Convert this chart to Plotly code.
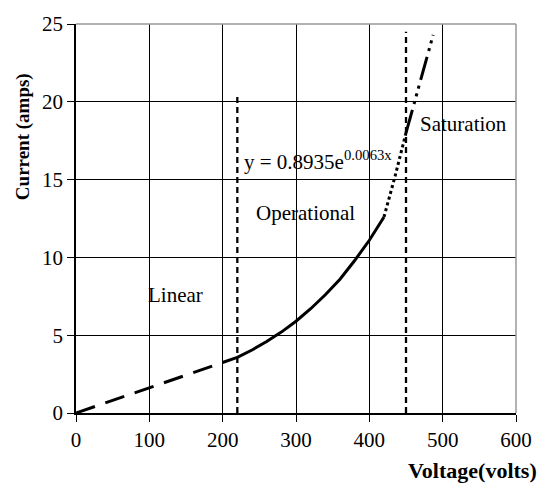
import plotly.graph_objects as go

# Voltage/current readings for each operating region
linear_v = [0, 50, 100, 150, 200, 220]
linear_i = [0.0, 0.8, 1.6, 2.4, 3.2, 3.57]

oper_v = [220, 240, 260, 280, 300, 320, 340, 360, 380, 400, 420]
oper_i = [3.57, 4.05, 4.59, 5.2, 5.9, 6.7, 7.6, 8.6, 9.8, 11.1, 12.6]

trans_v = [420, 435, 450]
trans_i = [12.6, 15.2, 18.0]

sat_v = [450, 470, 487]
sat_i = [18.0, 21.4, 24.3]

# Region boundaries
bound_v = [220, 450]
bound_top = [20.5, 24.5]

x_ticks = [0, 100, 200, 300, 400, 500, 600]
y_ticks = [0, 5, 10, 15, 20, 25]

FONT = "Liberation Serif, Times New Roman, serif"

fig = go.Figure()
fig.add_trace(go.Scatter(x=linear_v, y=linear_i, mode="lines",
                         line=dict(color="black", width=3, dash="20px,11px")))
fig.add_trace(go.Scatter(x=oper_v, y=oper_i, mode="lines",
                         line=dict(color="black", width=3)))
fig.add_trace(go.Scatter(x=trans_v, y=trans_i, mode="lines",
                         line=dict(color="black", width=3, dash="3px,3px")))
fig.add_trace(go.Scatter(x=sat_v, y=sat_i, mode="lines",
                         line=dict(color="black", width=3,
                                   dash="24px,6px,3px,5px,3px,5px,3px,6px")))
for v, top in zip(bound_v, bound_top):
    fig.add_trace(go.Scatter(x=[v, v], y=[0, top], mode="lines",
                             line=dict(color="black", width=2.3, dash="6px,4px")))

# Frame: grey top and right edges
fig.add_shape(type="line", xref="paper", yref="paper", x0=0, x1=1, y0=1, y1=1,
              line=dict(color="#999999", width=1.5))
fig.add_shape(type="line", xref="paper", yref="paper", x0=1, x1=1, y0=0, y1=1,
              line=dict(color="#999999", width=1.5))

txt = dict(family=FONT, size=21, color="black")
fig.add_annotation(x=226, y=16.2, text="y = 0.8935e<sup>0.0063x</sup>", showarrow=False,
                   xanchor="left", font=txt)
fig.add_annotation(x=313, y=12.85, text="Operational", showarrow=False, font=txt)
fig.add_annotation(x=135, y=7.6, text="Linear", showarrow=False, font=txt)
fig.add_annotation(x=529, y=18.6, text="Saturation", showarrow=False, font=txt)

fig.add_annotation(xref="paper", yref="paper", x=1.052, y=-0.149, xanchor="right",
                   yanchor="middle", text="<b>Voltage(volts)</b>", showarrow=False,
                   font=dict(family=FONT, size=22, color="black"))
fig.add_annotation(xref="paper", yref="paper", x=-0.122, y=0.71, textangle=-90,
                   xanchor="center", yanchor="middle", text="<b>Current (amps)</b>",
                   showarrow=False, font=dict(family=FONT, size=19, color="black"))

axis_common = dict(showgrid=True, gridcolor="black", gridwidth=1, zeroline=False,
                   showline=True, linecolor="black", linewidth=1.5,
                   ticks="outside", ticklen=7, tickcolor="black",
                   tickfont=dict(family=FONT, size=21, color="black"))
fig.update_xaxes(range=[0, 600], tickvals=x_ticks, **axis_common)
fig.update_yaxes(range=[0, 25], tickvals=y_ticks, **axis_common)

fig.update_layout(width=544, height=487, showlegend=False,
                  margin=dict(l=76, r=27, t=16, b=74),
                  plot_bgcolor="white", paper_bgcolor="white")
fig.write_html("out.html")
